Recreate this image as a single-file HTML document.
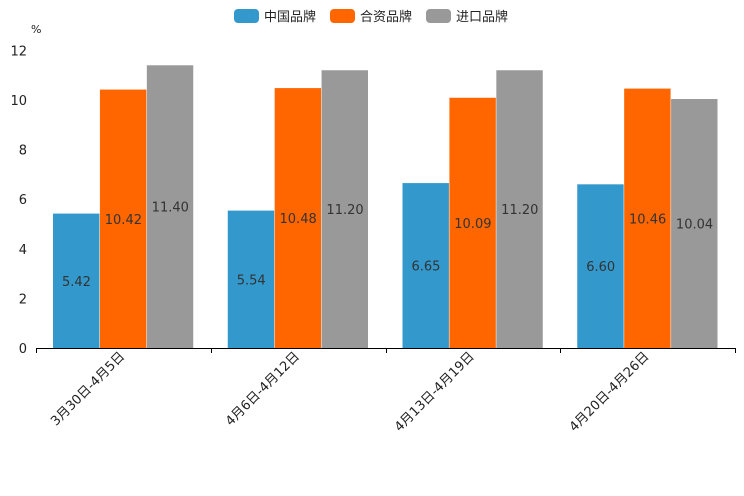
<!DOCTYPE html>
<html><head><meta charset="utf-8"><style>
body{margin:0;background:#fff}
svg{display:block;font-family:"DejaVu Sans","Noto Sans CJK SC",sans-serif}
</style></head><body>
<svg id="c" width="744" height="496"></svg>
<script>
const categories=["3月30日-4月5日","4月6日-4月12日","4月13日-4月19日","4月20日-4月26日"];
const seriesNames=["中国品牌","合资品牌","进口品牌"];
const domestic=[5.42,5.54,6.65,6.60];
const jointVenture=[10.42,10.48,10.09,10.46];
const imported=[11.40,11.20,11.20,10.04];
const yTicks=[0,2,4,6,8,10,12];
const colors=["#3399cc","#ff6600","#999999"];
const series=[domestic,jointVenture,imported];
const NS="http://www.w3.org/2000/svg";
const svg=document.getElementById('c');
const x0=36,x1=735,y0=348,pxPer=24.8;
const gw=(x1-x0)/categories.length,pad=17,bw=(gw-2*pad)/3;
const y=v=>y0-v*pxPer;
function mk(t,a,txt){const e=document.createElementNS(NS,t);for(const k in a)e.setAttribute(k,a[k]);if(txt!=null)e.textContent=txt;svg.appendChild(e);return e;}
yTicks.forEach(v=>{const e=mk('text',{x:27,y:y(v)+5,'text-anchor':'end','font-size':13,fill:'#222'},v);

});
const u=mk('text',{x:31,y:33,'font-size':11,fill:'#222'},'%');


categories.forEach((c,i)=>{
 series.forEach((s,j)=>{
  const bx=x0+i*gw+pad+j*bw;
  const r=mk('rect',{x:bx,y:y(s[i]),width:bw-0.5,height:s[i]*pxPer,fill:colors[j]});
  
  
  const t=mk('text',{x:bx+bw/2,y:y(s[i]/2)+5,'text-anchor':'middle','font-size':13,fill:'#333'},s[i].toFixed(2));
  
  
 });
 const cx=x0+i*gw+gw/2;
 const l=mk('text',{x:cx+2,y:357,'text-anchor':'end','font-size':13,fill:'#222',transform:`rotate(-45 ${cx+2} 357)`},c);
 
 
});
const ax=mk('line',{x1:x0,x2:x1,y1:y0+0.5,y2:y0+0.5,stroke:'#000','stroke-width':1});


for(let i=0;i<=categories.length;i++){const tx=Math.round(x0+i*gw)+0.5;
 const tk=mk('line',{x1:tx,x2:tx,y1:y0,y2:y0+5,stroke:'#000'});
 
 }
const lx=[234,330,426];
seriesNames.forEach((n,j)=>{
 const r=mk('rect',{x:lx[j],y:9,width:25,height:14,rx:4,fill:colors[j]});
 
 
 const t=mk('text',{x:lx[j]+30,y:21,'font-size':13,fill:'#222'},n);
 
 
});
</script>
</body></html>
